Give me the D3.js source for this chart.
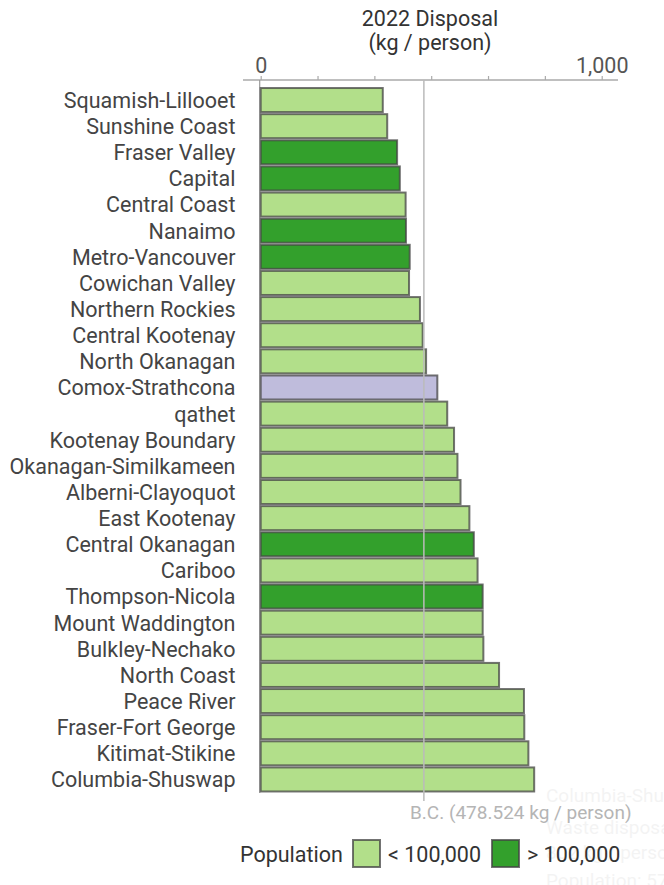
<!DOCTYPE html>
<html>
<head>
<meta charset="utf-8">
<script src="https://cdn.jsdelivr.net/npm/d3@7"></script>
<style>
  html, body { margin: 0; padding: 0; background: #fff; }
  svg { display: block; font-family: Roboto, "Noto Sans", sans-serif; }
</style>
</head>
<body>
<svg id="chart" width="664" height="885"></svg>
<script>
const regions = [
  "Squamish-Lillooet","Sunshine Coast","Fraser Valley","Capital","Central Coast",
  "Nanaimo","Metro-Vancouver","Cowichan Valley","Northern Rockies","Central Kootenay",
  "North Okanagan","Comox-Strathcona","qathet","Kootenay Boundary","Okanagan-Similkameen",
  "Alberni-Clayoquot","East Kootenay","Central Okanagan","Cariboo","Thompson-Nicola",
  "Mount Waddington","Bulkley-Nechako","North Coast","Peace River","Fraser-Fort George",
  "Kitimat-Stikine","Columbia-Shuswap"
];
const disposal = [
  358, 371, 400, 408, 425,
  426, 437, 435, 467, 475,
  485, 518, 547, 567, 577,
  586, 612, 625, 636, 651,
  651, 653, 699, 772, 773,
  785, 802
];
// "small" = < 100,000, "large" = > 100,000, "selected" = highlighted region
const popGroup = [
  "small","small","large","large","small",
  "large","large","small","small","small",
  "small","selected","small","small","small",
  "small","small","large","small","large",
  "small","small","small","small","small",
  "small","small"
];
const bcAverage = 478.524;
const xTickValues = [0, 1000/6, 2000/6, 500, 4000/6, 5000/6, 1000];
const xTickLabels = {0: "0", 1000: "1,000"};
const legendItems = [
  {key: "small", label: "< 100,000"},
  {key: "large", label: "> 100,000"}
];
const tooltipLines = ["Columbia-Shuswap", "Waste disposal:", "802 kg / person", "Population: 57,000"];

const colors = {small: "#b2df8a", large: "#33a02c", selected: "#bfbcdc"};
const FS = 21.5;

const svg = d3.select("#chart");
const x = d3.scaleLinear().domain([0, 1000]).range([260.7, 601.7]);
const y = d3.scaleBand().domain(regions).range([87.5, 792]).paddingInner(0.08).paddingOuter(0.02);

// faint ghost tooltip
svg.append("g").selectAll("text").data(tooltipLines).join("text")
  .attr("x", 546).attr("y", (d, i) => [802, 834, 859, 887][i])
  .attr("font-size", 19).attr("fill", "#000").attr("opacity", 0.045)
  .text(d => d);

// title
svg.append("text").attr("x", 430).attr("y", 25.5).attr("text-anchor", "middle")
  .attr("font-size", FS).attr("fill", "#333").text("2022 Disposal");
svg.append("text").attr("x", 430).attr("y", 49.5).attr("text-anchor", "middle")
  .attr("font-size", FS).attr("fill", "#333").text("(kg / person)");

// top axis
const axis = d3.axisTop(x).tickValues(xTickValues).tickSize(4).tickPadding(3.5)
  .tickFormat(d => xTickLabels[Math.round(d)] || "");
const ag = svg.append("g").attr("transform", "translate(0,80)").call(axis);
ag.select(".domain").remove();
ag.selectAll(".tick line").attr("stroke", "#aaa").attr("stroke-width", 1.2);
ag.selectAll(".tick text").attr("font-size", FS).attr("fill", "#555")
  .attr("font-family", "Roboto, sans-serif");
ag.append("line").attr("x1", 243).attr("x2", 618).attr("y1", 0).attr("y2", 0)
  .attr("stroke", "#aaa").attr("stroke-width", 1.5);

// left baseline
svg.append("line").attr("x1", x(0) - 1).attr("x2", x(0) - 1)
  .attr("y1", 80).attr("y2", 793).attr("stroke", "#999").attr("stroke-width", 1.2);

// category labels
const yAxis = d3.axisLeft(y).tickSize(0).tickPadding(0);
const yg = svg.append("g").attr("transform", "translate(235.5,1)").call(yAxis);
yg.select(".domain").remove();
yg.selectAll(".tick text").attr("font-size", FS).attr("fill", "#444")
  .attr("font-family", "Roboto, sans-serif");

// bars
const data = regions.map((r, i) => ({r, v: disposal[i], g: popGroup[i]}));
svg.append("g").selectAll("rect").data(data).join("rect")
  .attr("x", x(0))
  .attr("y", d => y(d.r))
  .attr("width", d => x(d.v) - x(0))
  .attr("height", y.bandwidth())
  .attr("fill", d => colors[d.g])
  .attr("stroke", "#444").attr("stroke-opacity", 0.75).attr("stroke-width", 2);

// B.C. reference line
svg.append("line").attr("x1", x(bcAverage)).attr("x2", x(bcAverage))
  .attr("y1", 80).attr("y2", 801).attr("stroke", "#bbb").attr("stroke-width", 1.5);
svg.append("text").attr("x", 410).attr("y", 819)
  .attr("font-size", 19).attr("fill", "#b5b5b5")
  .text("B.C. (" + bcAverage + " kg / person)");

// legend
const lg = svg.append("g");
lg.append("text").attr("x", 240).attr("y", 861.5).attr("font-size", FS).attr("fill", "#333").text("Population");
const lx = [353, 492];
legendItems.forEach((it, i) => {
  lg.append("rect").attr("x", lx[i]).attr("y", 840).attr("width", 27).attr("height", 27)
    .attr("fill", colors[it.key]).attr("stroke", "#444").attr("stroke-opacity", 0.75).attr("stroke-width", 2);
  lg.append("text").attr("x", lx[i] + 35).attr("y", 861.5).attr("font-size", FS).attr("fill", "#333").text(it.label);
});
</script>
</body>
</html>
